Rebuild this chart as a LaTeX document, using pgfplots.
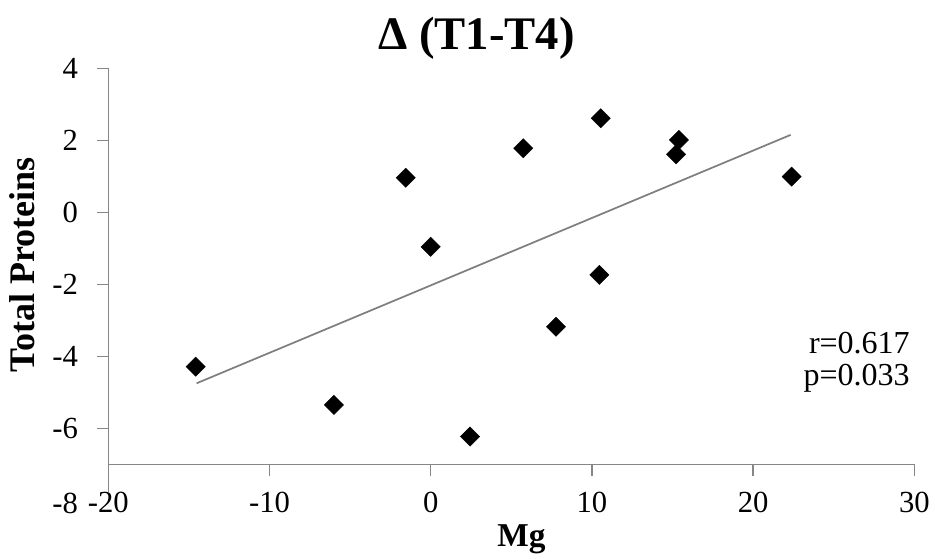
\documentclass[border=0pt]{standalone}
\usepackage{pgfplots}
\pgfplotsset{compat=1.18}
\usepackage{fontspec}
\setmainfont{Liberation Serif}
\definecolor{axgray}{HTML}{868686}
\definecolor{trend}{HTML}{7F7F7F}
\begin{document}
\begin{tikzpicture}
\useasboundingbox (-81.2pt,-71pt) rectangle (620pt,348.2pt);
\begin{axis}[
  at={(0,0)}, anchor=south west,
  scale only axis, width=604.5pt, height=297pt,
  xmin=-20, xmax=30, ymin=-7, ymax=4,
  axis x line=bottom, axis y line=left,
  axis line style={-, draw=axgray, line width=1.1pt},
  xtick={-20,-10,...,30}, ytick={-6,-4,...,4},
  tick align=outside,
  major tick length=8.5pt,
  tick style={draw=axgray, line width=1.1pt},
  /pgf/number format/assume math mode=true,
  ticklabel style={font=\fontsize{23}{26}\selectfont, inner sep=0pt},
  yticklabel style={anchor=east, xshift=-22.5pt+8.5pt},
  xticklabel style={anchor=north, yshift=-20.8pt+8.5pt},
  clip=false,
]
\addplot[only marks, mark=square*, mark size=5.1pt, mark options={rotate=45, fill=black, draw=black, line width=0.3pt}]
  coordinates {
  (-14.58,-4.29) (-6.0,-5.35) (-1.55,0.96) (0.0,-0.96) (2.44,-6.23) (5.74,1.78)
  (7.77,-3.18) (10.55,2.61) (10.46,-1.74) (15.22,1.61) (15.4,2.01) (22.39,0.99)
  };
\addplot[trend, line width=1.3pt, no marks] coordinates {(-14.52,-4.75) (22.33,2.15)};
\draw[axgray, line width=1.1pt] (axis cs:-20,-7) -- (axis cs:-20,-7.78);
\node[anchor=east, inner sep=0pt, font=\fontsize{23}{26}\selectfont] at (axis cs:-20,-8.09) [xshift=-22.5pt] {-8};
\node[anchor=base east, inner sep=0pt, font=\fontsize{24}{28}\selectfont] at (axis cs:29.73,-3.91) {r=0.617};
\node[anchor=base east, inner sep=0pt, font=\fontsize{24}{28}\selectfont] at (axis cs:29.73,-4.80) {p=0.033};
\node[anchor=base, inner sep=0pt, font=\fontsize{35}{40}\selectfont\bfseries] at (axis cs:2.84,4) [yshift=13.7pt] {Δ (T1-T4)};
\node[anchor=base, inner sep=0pt, font=\fontsize{25}{30}\selectfont\bfseries] at (axis cs:5.63,-7) [yshift=-62pt] {Mg};
\node[anchor=base, rotate=90, inner sep=0pt, font=\fontsize{27}{32}\selectfont\bfseries] at (axis cs:-24.55,-1.46) {Total Proteins};
\end{axis}
\end{tikzpicture}
\end{document}
